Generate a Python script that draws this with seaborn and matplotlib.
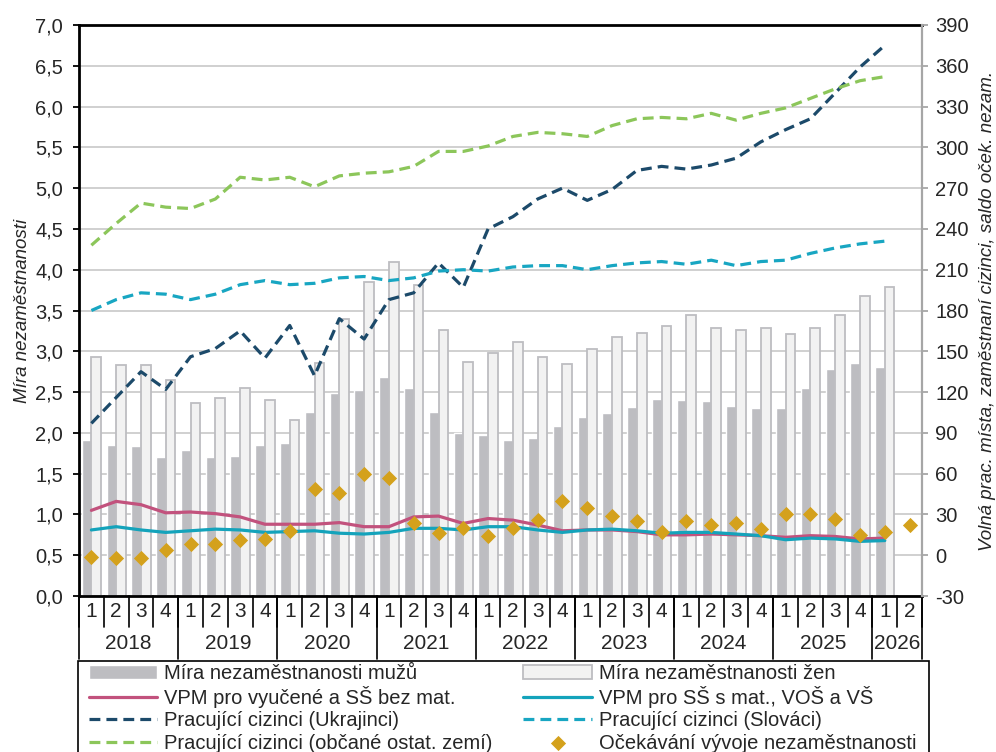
import numpy as np
import pandas as pd
import matplotlib
matplotlib.use("Agg")
import matplotlib.pyplot as plt
import matplotlib.transforms as mtransforms
from matplotlib.patches import Rectangle
import seaborn as sns

# quarters 2018Q1 .. 2026Q2
years = [2018, 2019, 2020, 2021, 2022, 2023, 2024, 2025, 2026]
quarters_per_year = [4, 4, 4, 4, 4, 4, 4, 4, 2]

nan = np.nan
# unemployment rate (left axis, %)
male = [1.91, 1.85, 1.84, 1.70, 1.79, 1.71, 1.72, 1.85, 1.87, 2.25, 2.49, 2.53,
        2.68, 2.55, 2.25, 2.00, 1.97, 1.91, 1.94, 2.08, 2.20, 2.24, 2.32, 2.42,
        2.40, 2.39, 2.33, 2.31, 2.31, 2.55, 2.78, 2.86, 2.81, nan]
female = [2.93, 2.83, 2.83, 2.65, 2.37, 2.43, 2.55, 2.40, 2.16, 2.86, 3.39, 3.85,
          4.09, 3.81, 3.26, 2.87, 2.98, 3.12, 2.93, 2.84, 3.03, 3.18, 3.23, 3.31,
          3.44, 3.28, 3.26, 3.28, 3.21, 3.29, 3.45, 3.68, 3.79, nan]
# vacancies per unemployed (left axis)
vpm_low = [1.05, 1.16, 1.12, 1.02, 1.03, 1.01, 0.97, 0.88, 0.88, 0.88, 0.90, 0.85,
           0.85, 0.97, 0.98, 0.89, 0.95, 0.93, 0.87, 0.80, 0.81, 0.81, 0.79, 0.75,
           0.75, 0.76, 0.75, 0.74, 0.72, 0.74, 0.73, 0.70, 0.71, nan]
vpm_high = [0.81, 0.85, 0.81, 0.78, 0.80, 0.82, 0.81, 0.78, 0.79, 0.80, 0.77, 0.76,
            0.78, 0.83, 0.83, 0.81, 0.85, 0.85, 0.81, 0.78, 0.81, 0.82, 0.80, 0.77,
            0.78, 0.78, 0.76, 0.74, 0.69, 0.71, 0.70, 0.67, 0.68, nan]
# foreign workers, thousands (right axis)
ukr = [97, 116, 135, 122, 146, 152, 165, 145, 169, 132, 174, 159,
       188, 193, 215, 197, 240, 249, 262, 270, 261, 269, 283, 286,
       284, 287, 292, 304, 313, 321, 340, 359, 375, nan]
svk = [180, 188, 193, 192, 188, 192, 199, 202, 199, 200, 204, 205,
       202, 204, 209, 210, 209, 212, 213, 213, 210, 213, 215, 216,
       214, 217, 213, 216, 217, 222, 226, 229, 231, nan]
other = [228, 244, 259, 256, 255, 262, 278, 276, 278, 271, 279, 281,
         282, 286, 297, 297, 301, 308, 311, 310, 308, 316, 321, 322,
         321, 325, 320, 325, 329, 336, 343, 349, 352, nan]
# expectations balance (right axis)
expect = [-1, -2, -2, 4, 8, 8, 11, 12, 18, 49, 46, 60,
          57, 24, 16, 20, 14, 20, 26, 40, 35, 29, 25, 17,
          25, 22, 24, 19, 30, 30, 27, 15, 17, 22]

labels = ["Míra nezaměstnanosti mužů", "Míra nezaměstnanosti žen",
          "VPM pro vyučené a SŠ bez mat.", "VPM pro SŠ s mat., VOŠ a VŠ",
          "Pracující cizinci (Ukrajinci)", "Pracující cizinci (Slováci)",
          "Pracující cizinci (občané ostat. zemí)", "Očekávání vývoje nezaměstnanosti"]

kv = [f"{y}-{q}" for y, n in zip(years, quarters_per_year) for q in range(1, n + 1)]
q_labels = [str(q) for y, n in zip(years, quarters_per_year) for q in range(1, n + 1)]
pos = np.arange(len(kv))

sns.set_style("white")
plt.rcParams["font.family"] = ["Liberation Sans", "DejaVu Sans"]

fig, ax = plt.subplots(figsize=(9.96, 7.52), dpi=100)
fig.subplots_adjust(left=0.0793, right=0.9257, bottom=0.2074, top=0.9668)

bars = pd.DataFrame({
    "kvartal": kv * 2,
    "skupina": ["muži"] * len(kv) + ["ženy"] * len(kv),
    "mira": male + female,
})
sns.barplot(data=bars, x="kvartal", y="mira", hue="skupina", order=kv,
            hue_order=["muži", "ženy"],
            palette={"muži": "#BDBDC1", "ženy": "#F2F2F2"},
            width=0.78, errorbar=None, saturation=1, legend=False, ax=ax)
cont_m, cont_f = ax.containers[0], ax.containers[1]
for p in cont_f.patches:
    p.set_edgecolor("#BDBDC1")
    p.set_linewidth(1.3)

sns.lineplot(x=pos, y=vpm_low, color="#C2527D", lw=2.3, errorbar=None, legend=False, ax=ax)
sns.lineplot(x=pos, y=vpm_high, color="#14A3BB", lw=2.3, errorbar=None, legend=False, ax=ax)
l_low, l_high = ax.lines[0], ax.lines[1]

ax.set_ylim(0, 7)
ax.set_yticks(np.arange(0, 7.01, 0.5))
ax.set_yticklabels([f"{v:.1f}".replace(".", ",") for v in np.arange(0, 7.01, 0.5)])
ax.set_xlim(-0.5, len(kv) - 0.5)
ax.set_xticks(pos)
ax.set_xticklabels(q_labels)
ax.set_xlabel("")
ax.set_ylabel("Míra nezaměstnanosti", fontstyle="italic", fontsize=13.5, labelpad=3)
ax.yaxis.grid(True, color="#D0D0D0", lw=1.4)
ax.set_axisbelow(True)
ax.tick_params(axis="x", length=0, labelsize=15, pad=4)
ax.tick_params(axis="y", length=4.5, width=1.3, color="black", labelsize=14.5, pad=7, left=True)
for s in ["left", "bottom", "top"]:
    ax.spines[s].set_color("black")
    ax.spines[s].set_linewidth(2)
ax.spines["right"].set_visible(False)

ax2 = ax.twinx()
dash = (0, (3.4, 1.9))
sns.lineplot(x=pos, y=ukr, color="#1C4A6A", lw=2.3, linestyle=dash, errorbar=None,
             legend=False, ax=ax2)
sns.lineplot(x=pos, y=svk, color="#18A6C2", lw=2.3, linestyle=dash, errorbar=None,
             legend=False, ax=ax2)
sns.lineplot(x=pos, y=other, color="#8CC65A", lw=2.3, linestyle=dash, errorbar=None,
             legend=False, ax=ax2)
sns.scatterplot(x=pos, y=expect, marker="D", s=60, color="#D4A11C", linewidth=0,
                legend=False, ax=ax2, zorder=5)
l_ukr, l_svk, l_oth = ax2.lines[0], ax2.lines[1], ax2.lines[2]
sc = ax2.collections[-1]

ax2.set_ylim(-30, 390)
ax2.set_yticks(np.arange(-30, 391, 30))
ax2.set_yticklabels([str(v) for v in np.arange(-30, 391, 30)])
ax2.set_ylabel("Volná prac. místa, zaměstnaní cizinci, saldo oček. nezam.",
               fontstyle="italic", fontsize=13.5, labelpad=7)
ax2.tick_params(axis="y", length=4.5, width=1.3, color="#A6A6A6", labelsize=14.5, pad=5, right=True)
for s in ["left", "bottom", "top"]:
    ax2.spines[s].set_visible(False)
ax2.spines["right"].set_color("#A6A6A6")
ax2.spines["right"].set_linewidth(1.6)
ax2.grid(False)

# two-level category axis: quarter separators, year separators and year labels
trans = mtransforms.blended_transform_factory(ax.transData, ax.transAxes)
for b in np.arange(len(kv) + 1) - 0.5:
    ax.plot([b, b], [0, -0.055], color="black", lw=1.2, transform=trans, clip_on=False)
start = 0
for y, n in zip(years, quarters_per_year):
    ax.plot([start - 0.5, start - 0.5], [0, -0.11], color="black", lw=1.2,
            transform=trans, clip_on=False)
    ax.text(start + (n - 1) / 2, -0.083, str(y), ha="center", va="center",
            fontsize=15, transform=trans)
    start += n
ax.plot([start - 0.5, start - 0.5], [0, -0.11], color="black", lw=1.2,
        transform=trans, clip_on=False)

# legend (frame drawn separately, it runs off the bottom of the picture)
handles = [cont_m, l_low, l_ukr, l_oth, cont_f, l_high, l_svk, sc]
leg_labels = [labels[0], labels[2], labels[4], labels[6],
              labels[1], labels[3], labels[5], labels[7]]
fig.legend(handles, leg_labels, ncol=2, loc="upper left",
           bbox_to_anchor=(89 / 996, 1 - 664 / 752, (916 - 89) / 996, 0),
           mode="expand", frameon=False,
           fontsize=14.5, handlelength=3.4, handletextpad=0.33,
           labelspacing=0.16, borderaxespad=0, borderpad=0)
fig.add_artist(Rectangle((78 / 996, -0.05), (929 - 78) / 996, 0.05 + 1 - 661 / 752,
                         transform=fig.transFigure, fill=False, edgecolor="black", lw=1.2))

plt.savefig("out.png", dpi=100)
